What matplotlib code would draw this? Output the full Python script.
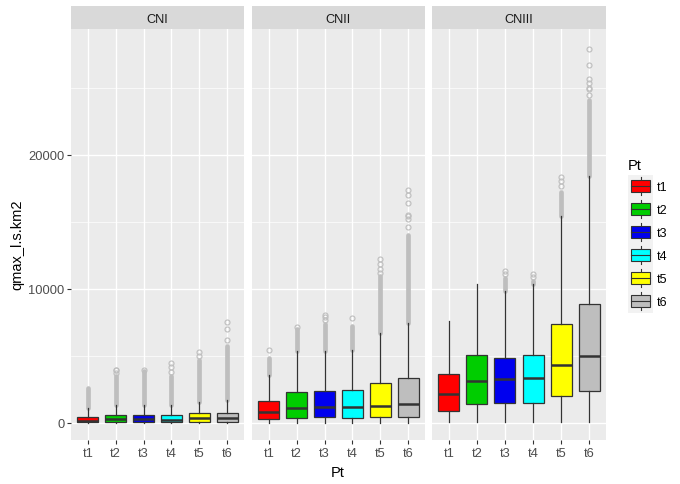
import numpy as np
import matplotlib
matplotlib.use('Agg')
import matplotlib.pyplot as plt
from matplotlib.patches import Rectangle, Patch
from matplotlib.lines import Line2D
from matplotlib.legend_handler import HandlerBase

plt.rcParams['font.family'] = ['Liberation Sans', 'DejaVu Sans']

# data
panels = ['CNI', 'CNII', 'CNIII']
pt = ['t1', 't2', 't3', 't4', 't5', 't6']
fills = ['#FF0000', '#00CD00', '#0000EE', '#00FFFF', '#FFFF00', '#BEBEBE']

q1 = {'CNI':   [30, 30, 30, 30, 40, 40],
      'CNII':  [250, 330, 400, 330, 400, 450],
      'CNIII': [900, 1375, 1500, 1500, 1950, 2325]}
med = {'CNI':   [150, 250, 250, 230, 350, 330],
       'CNII':  [775, 1075, 1200, 1150, 1275, 1400],
       'CNIII': [2150, 3075, 3250, 3325, 4325, 5000]}
q3 = {'CNI':   [450, 575, 575, 575, 725, 725],
      'CNII':  [1600, 2250, 2325, 2400, 2950, 3325],
      'CNIII': [3625, 5025, 4825, 5025, 7400, 8825]}
whislo = {'CNI':   [0, 0, 0, 0, 0, 0],
          'CNII':  [0, 0, 0, 0, 0, 0],
          'CNIII': [20, 20, 20, 20, 20, 20]}
whishi = {'CNI':   [1100, 1350, 1350, 1350, 1520, 1670],
          'CNII':  [3575, 5325, 5325, 5450, 6700, 7450],
          'CNIII': [7575, 10325, 9825, 10325, 15450, 18450]}
# top of the dense run of outliers (None = no outliers)
dense_top = {'CNI':   [2550, 3500, 3850, 3500, 4700, 5730],
             'CNII':  [4825, 7000, 7400, 7200, 10950, 14000],
             'CNIII': [None, None, 10825, 10600, 17200, 24075]}
# isolated outliers above the dense run
sparse = {'CNI':   [[], [3700, 3900, 3950], [3950], [3800, 4150, 4450], [4975, 5275], [6200, 7000, 7500]],
          'CNII':  [[5450], [7150], [7700, 7900, 8050], [7825],
                    [11150, 11450, 11825, 12200],
                    [14600, 15200, 15400, 15500, 16400, 17000, 17400]],
          'CNIII': [[], [], [11075, 11325], [10900, 11100], [17700, 18075, 18325],
                    [24450, 24900, 25000, 25400, 25700, 26700, 27900]]}

W, H = 680, 485
fig = plt.figure(figsize=(W / 100, H / 100), dpi=100)
fig.patch.set_facecolor('white')

panel_x = [(71, 244), (252, 425), (432, 606)]
top, bot = 30, 441
strip_top = 7

edge = '#333333'
flier_col = '#BEBEBE'
pos = np.arange(1, 7)

for k, name in enumerate(panels):
    x0, x1 = panel_x[k]
    ax = fig.add_axes([x0 / W, (H - bot) / H, (x1 - x0) / W, (bot - top) / H])
    ax.set_facecolor('#EBEBEB')
    for s in ax.spines.values():
        s.set_visible(False)
    ax.set_xlim(0.4, 6.6)
    ax.set_ylim(-1300, 29400)
    ax.set_yticks([0, 10000, 20000])
    ax.set_yticks([5000, 15000, 25000], minor=True)
    ax.grid(True, which='major', color='white', lw=1.0)
    ax.grid(True, which='minor', axis='y', color='white', lw=0.5)
    ax.set_axisbelow(True)
    ax.tick_params(which='major', length=2.7, width=0.8, color=edge,
                   labelcolor='#4D4D4D', labelsize=9.3, pad=2)
    ax.tick_params(which='minor', length=0)
    if k > 0:
        ax.tick_params(axis='y', which='major', length=0, labelleft=False)

    # outliers
    for i in range(6):
        if dense_top[name][i] is not None:
            ax.vlines(pos[i], whishi[name][i], dense_top[name][i], color=flier_col,
                      lw=3.4, capstyle='round', zorder=2)
        if sparse[name][i]:
            ax.plot([pos[i]] * len(sparse[name][i]), sparse[name][i], 'o', mfc='none',
                    mec=flier_col, ms=3.6, mew=0.8, zorder=2)

    stats = []
    for i in range(6):
        stats.append(dict(med=med[name][i], q1=q1[name][i], q3=q3[name][i],
                          whislo=whislo[name][i], whishi=whishi[name][i], fliers=[]))
    bp = ax.bxp(stats, positions=pos, widths=0.75, patch_artist=True,
                showcaps=False, showfliers=False,
                boxprops=dict(edgecolor=edge, linewidth=0.9),
                whiskerprops=dict(color=edge, linewidth=0.9),
                medianprops=dict(color=edge, linewidth=1.8, solid_capstyle='butt'),
                manage_ticks=False)
    for patch, c in zip(bp['boxes'], fills):
        patch.set_facecolor(c)
    ax.set_xticks(pos)
    ax.set_xticklabels(pt)

    # facet strip
    sax = fig.add_axes([x0 / W, (H - top) / H, (x1 - x0) / W, (top - strip_top) / H])
    sax.set_facecolor('#D9D9D9')
    sax.set_xticks([])
    sax.set_yticks([])
    for s in sax.spines.values():
        s.set_visible(False)
    sax.text(0.5, 0.45, name, ha='center', va='center', fontsize=9.2, color='#1A1A1A',
             transform=sax.transAxes)

fig.text(17 / W, 1 - 245 / H, 'qmax_l.s.km2', rotation=90, ha='center', va='center',
         fontsize=10.5, color='black')
fig.text(338 / W, 1 - 473 / H, 'Pt', ha='center', va='center', fontsize=10.5, color='black')


class BoxKey(HandlerBase):
    def create_artists(self, legend, orig, xdescent, ydescent, width, height, fontsize, trans):
        x, y = -xdescent, -ydescent
        bg = Rectangle((x, y), width, height, facecolor='#F2F2F2', edgecolor='none',
                       transform=trans)
        wl = Line2D([x + width / 2] * 2, [y + height * 0.1, y + height * 0.9],
                    color=edge, lw=0.8, transform=trans)
        bw, bh = width * 0.78, height * 0.52
        box = Rectangle((x + (width - bw) / 2, y + (height - bh) / 2), bw, bh,
                        facecolor=orig.get_facecolor(), edgecolor=edge, lw=0.8,
                        transform=trans)
        ml = Line2D([x + (width - bw) / 2, x + (width + bw) / 2], [y + height / 2] * 2,
                    color=edge, lw=0.8, transform=trans)
        return [bg, wl, box, ml]


handles = [Patch(facecolor=c) for c in fills]
leg = fig.legend(handles, pt, title='Pt', loc='upper left',
                 bbox_to_anchor=(628 / W, 1 - 159 / H), frameon=False,
                 handler_map={Patch: BoxKey()}, handlelength=2.0, handleheight=2.45,
                 labelspacing=0.0, handletextpad=0.3, borderpad=0, borderaxespad=0,
                 fontsize=9.0, title_fontsize=10.5, alignment='left')
leg._legend_box.sep = 2

fig.savefig('out.png', dpi=100)
